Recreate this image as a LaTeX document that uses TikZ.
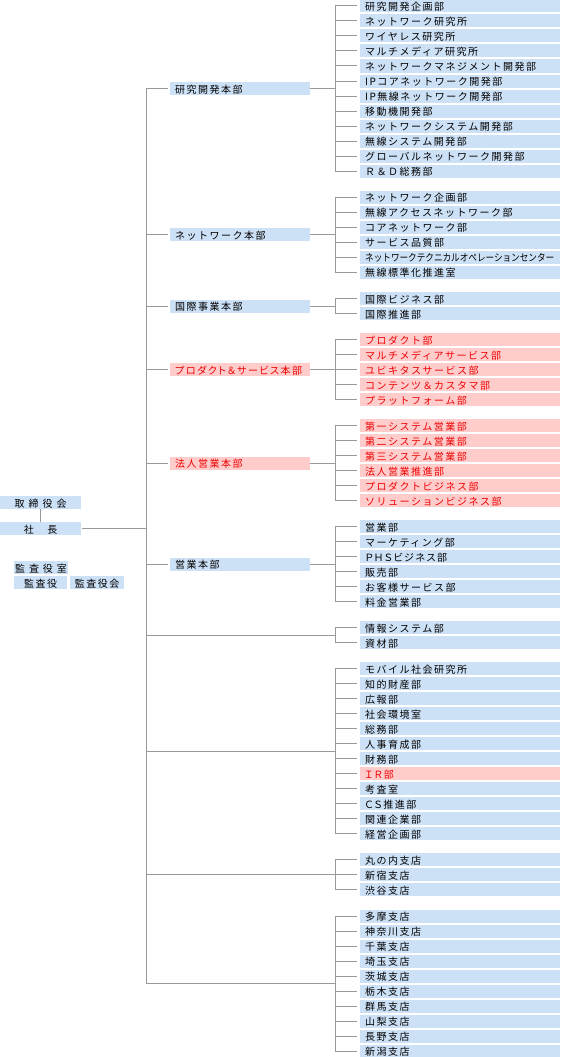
\documentclass[tikz,border=0pt]{standalone}
\usepackage{fontspec}
\usepackage{graphicx}
\newfontfamily\jp[LetterSpace=15]{Noto Sans CJK JP}
\newfontfamily\jpp[RawFeature={+palt},LetterSpace=15]{Noto Sans CJK JP}
\newfontfamily\jpn{Noto Sans CJK JP}
\newfontfamily\jpw[LetterSpace=40]{Noto Sans CJK JP}
\usetikzlibrary{calc}
\definecolor{bxblue}{HTML}{CCE0F6}
\definecolor{bxpink}{HTML}{FFCCCC}
\definecolor{txred}{HTML}{EE0000}
\definecolor{lngray}{HTML}{999999}
\newcommand\orggroup[4]{% #1 id, #2 first y, #3 last index, #4 list
  \foreach \t/\s [count=\i from 0] in {#4} {
    \node[rbox,\s] (#1r\i) at (360,#2+15*\i) {\mbox{\t}};
    \draw[conn] (#1r\i.west -| j#1) -- ([xshift=-3pt]#1r\i.west);
  }
  \draw[conn] (#1r0.west -| j#1) -- (#1r#3.west -| j#1);
}
\begin{document}
\begin{tikzpicture}[x=1pt,y=-1pt,
  box/.style={rectangle, fill=bxblue, inner xsep=5pt, inner ysep=0pt,
    minimum height=13pt, anchor=west, font=\jp\fontsize{10}{12}\selectfont,
    text height=10.6pt, text depth=1pt, align=left},
  rbox/.style={box, text width=190pt},
  mbox/.style={box, text width=130pt},
  lbox/.style={box, anchor=center, align=center},
  redb/.style={fill=bxpink, text=txred},
  conn/.style={draw=lngray, line width=1pt}]
\useasboundingbox (0,0) rectangle (560,1057);

% trunk
\coordinate (ttop) at (146,88.5);
\coordinate (tbot) at (146,983.5);
\draw[conn] (ttop) -- (tbot);

% left side
\node[lbox, minimum width=81pt, font=\jpw\fontsize{10}{12}\selectfont] (board) at (40.5,502.5) {取締役会};
\node[lbox, minimum width=81pt] (pres) at (40.5,528.2) {社\hspace{13.5pt}長};
\node[lbox, minimum width=54pt, inner xsep=0pt, font=\jpw\fontsize{10}{12}\selectfont] (kroom) at (41,567.5) {監査役室};
\node[lbox, minimum width=53pt, inner xsep=0pt] (kyaku) at (40.5,582.5) {監査役};
\node[lbox, minimum width=54pt, inner xsep=0pt] (kkai) at (97,582.5) {監査役会};
\draw[conn] (board.south) -- (pres.north);
\draw[conn] ([xshift=1pt]pres.east) -- (pres.east -| ttop);

% group 1
\coordinate (jA) at (335,88.5);
\node[mbox] (mA) at (170,88.5) {研究開発本部};
\draw[conn] (mA.west -| ttop) -- ([xshift=-2pt]mA.west);
\draw[conn] (mA.east) -- (jA);
\orggroup{A}{6}{11}{研究開発企画部/,ネットワーク研究所/,ワイヤレス研究所/,マルチメディア研究所/,ネットワークマネジメント開発部/,IPコアネットワーク開発部/,IP無線ネットワーク開発部/,移動機開発部/,ネットワークシステム開発部/,無線システム開発部/,グローバルネットワーク開発部/,Ｒ＆Ｄ総務部/}

% group 2
\coordinate (jB) at (335,234.5);
\node[mbox] (mB) at (170,234.5) {ネットワーク本部};
\draw[conn] (mB.west -| ttop) -- ([xshift=-2pt]mB.west);
\draw[conn] (mB.east) -- (jB);
\orggroup{B}{197}{5}{ネットワーク企画部/,無線アクセスネットワーク部/,コアネットワーク部/,サービス品質部/,{\scalebox{0.86}[1]{\jpn ネットワークテクニカルオペレーションセンター}}/,無線標準化推進室/}

% group 3
\coordinate (jC) at (335,306);
\node[mbox] (mC) at (170,306) {国際事業本部};
\draw[conn] (mC.west -| ttop) -- ([xshift=-2pt]mC.west);
\draw[conn] (mC.east) -- (jC);
\orggroup{C}{298.5}{1}{国際ビジネス部/,国際推進部/}

% group 4
\coordinate (jD) at (335,369.5);
\node[mbox,redb] (mD) at (170,369.5) {\jpp プロダクト＆サービス本部};
\draw[conn] (mD.west -| ttop) -- ([xshift=-2pt]mD.west);
\draw[conn] (mD.east) -- (jD);
\orggroup{D}{339.5}{4}{プロダクト部/redb,マルチメディアサービス部/redb,ユビキタスサービス部/redb,コンテンツ＆カスタマ部/redb,プラットフォーム部/redb}

% group 5
\coordinate (jE) at (335,463);
\node[mbox,redb] (mE) at (170,463) {法人営業本部};
\draw[conn] (mE.west -| ttop) -- ([xshift=-2pt]mE.west);
\draw[conn] (mE.east) -- (jE);
\orggroup{E}{425.5}{5}{第一システム営業部/redb,第二システム営業部/redb,第三システム営業部/redb,法人営業推進部/redb,プロダクトビジネス部/redb,ソリューションビジネス部/redb}

% group 6
\coordinate (jF) at (335,564);
\node[mbox] (mF) at (170,564) {営業本部};
\draw[conn] (mF.west -| ttop) -- ([xshift=-2pt]mF.west);
\draw[conn] (mF.east) -- (jF);
\orggroup{F}{526.5}{5}{営業部/,マーケティング部/,{\jpp ＰＨＳビジネス部}/,販売部/,お客様サービス部/,料金営業部/}

% group 7
\coordinate (jG) at (335,635);
\draw[conn] (jG -| ttop) -- (jG);
\orggroup{G}{627.5}{1}{情報システム部/,資材部/}

% group 8
\coordinate (jH) at (335,751);
\draw[conn] (jH -| ttop) -- (jH);
\orggroup{H}{668.5}{11}{モバイル社会研究所/,知的財産部/,広報部/,社会環境室/,総務部/,人事育成部/,財務部/,{\jpp ＩＲ部}/redb,考査室/,{\jpp ＣＳ推進部}/,関連企業部/,経営企画部/}

% group 9
\coordinate (jI) at (335,874.5);
\draw[conn] (jI -| ttop) -- (jI);
\orggroup{I}{859.5}{2}{丸の内支店/,新宿支店/,渋谷支店/}

% group 10
\coordinate (jJ) at (335,983.5);
\draw[conn] (jJ -| ttop) -- (jJ);
\orggroup{J}{916}{9}{多摩支店/,神奈川支店/,千葉支店/,埼玉支店/,茨城支店/,栃木支店/,群馬支店/,山梨支店/,長野支店/,新潟支店/}
\end{tikzpicture}
\end{document}
